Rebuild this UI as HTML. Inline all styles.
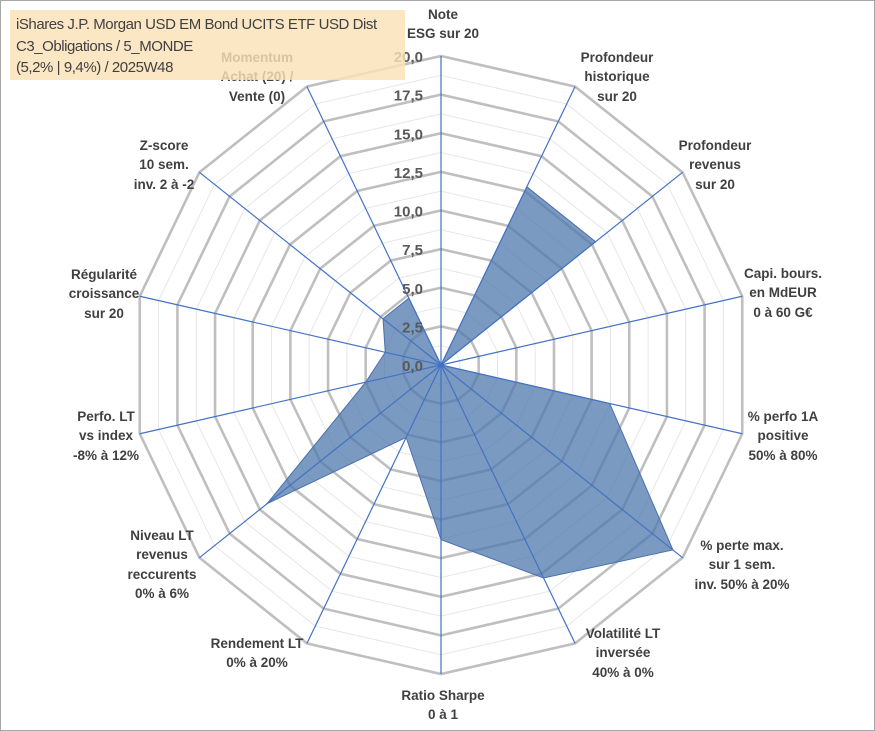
<!DOCTYPE html>
<html><head><meta charset="utf-8"><style>
body{margin:0;background:#fff;}
#wrap{position:relative;width:875px;height:731px;overflow:hidden;font-family:"Liberation Sans",Arial,sans-serif;}
#frame{position:absolute;left:0;top:0;width:873px;height:729px;border:1px solid #a6a6a6;}
.lbl{position:absolute;transform:translateX(-50%);text-align:center;font-weight:bold;font-size:13.5px;line-height:19.3px;color:#404040;white-space:nowrap;}
#title{position:absolute;left:10px;top:10px;width:395px;height:70px;background:rgba(251,226,184,0.82);font-size:15px;letter-spacing:-0.45px;line-height:21.5px;color:#404040;padding:4px 0 0 6px;box-sizing:border-box;white-space:nowrap;}
</style></head><body>
<div id="wrap">
<div id="frame"></div>
<svg id="svg" width="875" height="731" style="position:absolute;left:0;top:0"></svg>
<div class="lbl" style="left:443px;top:5px">Note<br>ESG sur 20</div>
<div class="lbl" style="left:617px;top:48px">Profondeur<br>historique<br>sur 20</div>
<div class="lbl" style="left:715px;top:136px">Profondeur<br>revenus<br>sur 20</div>
<div class="lbl" style="left:783px;top:264px">Capi. bours.<br>en MdEUR<br>0 à 60 G€</div>
<div class="lbl" style="left:783px;top:407px">% perfo 1A<br>positive<br>50% à 80%</div>
<div class="lbl" style="left:742px;top:536px">% perte max.<br>sur 1 sem.<br>inv. 50% à 20%</div>
<div class="lbl" style="left:623px;top:624px">Volatilité LT<br>inversée<br>40% à 0%</div>
<div class="lbl" style="left:443px;top:686px">Ratio Sharpe<br>0 à 1</div>
<div class="lbl" style="left:257px;top:634px">Rendement LT<br>0% à 20%</div>
<div class="lbl" style="left:162px;top:526px">Niveau LT<br>revenus<br>reccurents<br>0% à 6%</div>
<div class="lbl" style="left:106px;top:407px">Perfo. LT<br>vs index<br>-8% à 12%</div>
<div class="lbl" style="left:104px;top:265px">Régularité<br>croissance<br>sur 20</div>
<div class="lbl" style="left:164px;top:136px">Z-score<br>10 sem.<br>inv. 2 à -2</div>
<div class="lbl" style="left:257px;top:48px">Momentum<br>Achat (20) /<br>Vente (0)</div>
<div id="title">iShares J.P. Morgan USD EM Bond UCITS ETF USD Dist<br>C3_Obligations / 5_MONDE<br>(5,2% | 9,4%) / 2025W48</div>
</div>
<script>
const categories=["Note ESG","Profondeur historique","Profondeur revenus","Capi. bours.","% perfo 1A","% perte max.","Volatilité LT","Ratio Sharpe","Rendement LT","Niveau LT revenus","Perfo. LT","Régularité","Z-score","Momentum"];
const values=[0,12.8,12.8,0,11.2,19.2,15.3,11.3,5.2,14.4,5.0,3.7,4.8,4.8];
const ticks=[0,2.5,5,7.5,10,12.5,15,17.5,20];
const tickLabels=["0,0","2,5","5,0","7,5","10,0","12,5","15,0","17,5","20,0"];
const maxV=20;
const cx=441,cy=365,R=309;
const svg=document.getElementById('svg');
const NS='http://www.w3.org/2000/svg';
const n=categories.length;
function pt(i,v){const a=i*2*Math.PI/n;const r=v/maxV*R;return [cx+r*Math.sin(a),cy-r*Math.cos(a)];}
function ring(v){let s=[];for(let i=0;i<n;i++){s.push(pt(i,v).join(','));}return s.join(' ');}
for(let k=0;k<ticks.length-1;k++){const v=(ticks[k]+ticks[k+1])/2;
const p=document.createElementNS(NS,'polygon');p.setAttribute('points',ring(v));p.setAttribute('fill','none');p.setAttribute('stroke','#e6e6e6');p.setAttribute('stroke-width','1');


svg.appendChild(p);}
for(let k=1;k<ticks.length;k++){
const p=document.createElementNS(NS,'polygon');p.setAttribute('points',ring(ticks[k]));p.setAttribute('fill','none');p.setAttribute('stroke','#bfbfbf');p.setAttribute('stroke-width','2.6');


svg.appendChild(p);}
const poly=document.createElementNS(NS,'polygon');
poly.setAttribute('points',values.map((v,i)=>pt(i,v).join(',')).join(' '));
poly.setAttribute('fill','rgba(79,120,172,0.75)');poly.setAttribute('stroke','#4a70b0');poly.setAttribute('stroke-width','1');


svg.appendChild(poly);
for(let i=0;i<n;i++){const e=pt(i,maxV);
const l=document.createElementNS(NS,'line');l.setAttribute('x1',cx);l.setAttribute('y1',cy);l.setAttribute('x2',e[0]);l.setAttribute('y2',e[1]);l.setAttribute('stroke','#4472c4');l.setAttribute('stroke-width','1.2');


svg.appendChild(l);}
for(let k=0;k<ticks.length;k++){const p=pt(0,ticks[k]);
const t=document.createElementNS(NS,'text');t.setAttribute('x',cx-18);t.setAttribute('y',p[1]+6);t.setAttribute('text-anchor','end');t.setAttribute('font-family','Liberation Sans, Arial, sans-serif');t.setAttribute('font-weight','bold');t.setAttribute('font-size','15');t.setAttribute('fill','#595959');t.textContent=tickLabels[k];


svg.appendChild(t);}
</script>
</body></html>
